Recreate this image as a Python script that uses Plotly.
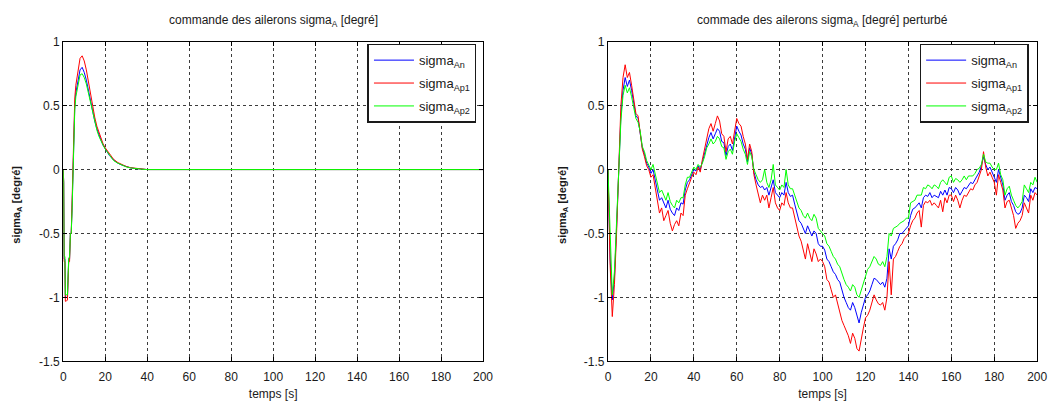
import plotly.graph_objects as go

# ---------------- data ----------------
# Left panel: nominal command (smooth response)
t_left = [0, 0.2, 0.4, 0.8, 1.0, 1.4, 2.0, 2.6, 3.0, 3.4, 3.8, 4.2, 4.6, 5.0, 5.5, 6.0, 7.0, 8.0, 9.0,
          10, 11, 12, 13, 14, 15, 16, 17, 18, 19, 20, 22, 24, 26, 28, 30, 32, 34, 36, 38, 40, 200]
left_An = [0, -0.1, -0.7, -0.7, -1.0, -1.0, -1.0, -0.7, -0.7, -0.5, -0.5, -0.3, 0.0, 0.3, 0.5, 0.6, 0.7,
           0.78, 0.80, 0.76, 0.70, 0.62, 0.53, 0.45, 0.38, 0.32, 0.27, 0.23, 0.19, 0.16, 0.11, 0.075,
           0.05, 0.035, 0.022, 0.014, 0.009, 0.006, 0.003, 0.0, 0.0]
left_Ap1 = [0, -0.1, -0.72, -0.72, -1.03, -1.03, -1.02, -0.72, -0.72, -0.5, -0.5, -0.28, 0.02, 0.34, 0.56,
            0.66, 0.78, 0.87, 0.89, 0.85, 0.78, 0.68, 0.58, 0.49, 0.41, 0.34, 0.29, 0.24, 0.20, 0.17, 0.12,
            0.08, 0.055, 0.037, 0.024, 0.015, 0.01, 0.006, 0.003, 0.0, 0.0]
left_Ap2 = [0, -0.1, -0.68, -0.68, -0.98, -0.98, -0.98, -0.69, -0.69, -0.5, -0.5, -0.32, -0.02, 0.28,
            0.47, 0.57, 0.67, 0.74, 0.75, 0.72, 0.67, 0.60, 0.51, 0.44, 0.37, 0.31, 0.26, 0.22, 0.19, 0.16,
            0.11, 0.07, 0.05, 0.034, 0.021, 0.013, 0.008, 0.005, 0.002, 0.0, 0.0]

# Right panel: perturbed command, sampled every second from 0 to 200 s
t_right = list(range(0, 201))
right_An = [0.0, -0.70, -1.02, -0.85, -0.45, 0.0, 0.42, 0.62, 0.72, 0.65, 0.70, 0.62, 0.52, 0.42, 0.40,
            0.30, 0.17, 0.12, 0.05, 0.02, -0.03, 0.0, -0.08, -0.17, -0.24, -0.22, -0.26, -0.30, -0.24,
            -0.31, -0.34, -0.36, -0.30, -0.32, -0.26, -0.27, -0.16, -0.10, -0.08, -0.04, 0.0, -0.01, 0.03,
            0.0, 0.06, 0.12, 0.20, 0.25, 0.29, 0.24, 0.28, 0.32, 0.30, 0.22, 0.21, 0.11, 0.18, 0.20, 0.15,
            0.26, 0.34, 0.30, 0.27, 0.20, 0.16, 0.06, 0.17, 0.12, -0.02, -0.08, -0.12, -0.14, -0.13,
            -0.16, -0.14, -0.20, -0.14, -0.08, -0.18, -0.20, -0.22, -0.18, -0.20, -0.10, -0.18, -0.21,
            -0.20, -0.27, -0.33, -0.40, -0.42, -0.46, -0.50, -0.44, -0.48, -0.52, -0.48, -0.50, -0.58,
            -0.60, -0.60, -0.63, -0.70, -0.72, -0.76, -0.80, -0.82, -0.86, -0.88, -0.95, -1.00, -1.04,
            -1.08, -1.10, -1.04, -1.08, -1.15, -1.20, -1.12, -1.05, -1.00, -0.98, -0.95, -0.90, -0.85,
            -0.86, -0.88, -0.90, -0.88, -0.92, -0.85, -0.62, -0.70, -0.60, -0.58, -0.55, -0.50, -0.50,
            -0.48, -0.46, -0.44, -0.36, -0.31, -0.30, -0.28, -0.26, -0.30, -0.22, -0.20, -0.21, -0.18,
            -0.22, -0.20, -0.21, -0.22, -0.17, -0.20, -0.16, -0.20, -0.14, -0.15, -0.18, -0.14, -0.16,
            -0.20, -0.17, -0.14, -0.15, -0.12, -0.10, -0.11, -0.08, -0.05, -0.02, 0.03, 0.10, 0.04, 0.00,
            0.02, -0.02, -0.05, -0.10, 0.0, -0.06, -0.12, -0.24, -0.20, -0.18, -0.25, -0.28, -0.33,
            -0.35, -0.34, -0.30, -0.20, -0.22, -0.25, -0.15, -0.18, -0.14, -0.15]
right_Ap1 = [0.0, -0.75, -1.15, -0.90, -0.50, 0.02, 0.50, 0.72, 0.82, 0.72, 0.76, 0.66, 0.55, 0.44, 0.42,
             0.30, 0.16, 0.10, 0.03, 0.0, -0.06, -0.04, -0.14, -0.24, -0.34, -0.30, -0.40, -0.36, -0.32,
             -0.42, -0.48, -0.43, -0.40, -0.44, -0.34, -0.36, -0.20, -0.15, -0.10, -0.06, -0.02, -0.04,
             0.02, -0.02, 0.08, 0.16, 0.26, 0.32, 0.36, 0.30, 0.36, 0.42, 0.38, 0.28, 0.26, 0.14, 0.24,
             0.26, 0.20, 0.32, 0.40, 0.36, 0.34, 0.26, 0.20, 0.08, 0.20, 0.14, -0.04, -0.12, -0.18,
             -0.26, -0.20, -0.24, -0.20, -0.30, -0.22, -0.14, -0.26, -0.30, -0.32, -0.26, -0.28, -0.18,
             -0.26, -0.30, -0.30, -0.38, -0.44, -0.52, -0.56, -0.62, -0.70, -0.58, -0.66, -0.72, -0.62,
             -0.66, -0.72, -0.70, -0.72, -0.76, -0.86, -0.88, -0.94, -1.00, -0.98, -1.05, -1.10, -1.18,
             -1.22, -1.26, -1.30, -1.36, -1.28, -1.32, -1.40, -1.42, -1.32, -1.24, -1.16, -1.14, -1.10,
             -1.04, -0.98, -1.02, -1.05, -1.06, -1.04, -1.10, -1.00, -0.72, -0.98, -0.70, -0.68, -0.64,
             -0.60, -0.58, -0.54, -0.52, -0.50, -0.44, -0.40, -0.38, -0.34, -0.32, -0.45, -0.28, -0.25,
             -0.26, -0.24, -0.28, -0.26, -0.28, -0.30, -0.24, -0.33, -0.22, -0.26, -0.20, -0.20, -0.25,
             -0.20, -0.24, -0.30, -0.24, -0.20, -0.21, -0.18, -0.15, -0.16, -0.12, -0.10, -0.05, 0.0,
             0.14, 0.02, -0.05, -0.02, -0.06, -0.10, -0.20, -0.04, -0.10, -0.16, -0.30, -0.25, -0.24,
             -0.30, -0.36, -0.46, -0.42, -0.40, -0.36, -0.26, -0.30, -0.34, -0.20, -0.24, -0.18, -0.20]
right_Ap2 = [0.0, -0.55, -0.98, -0.80, -0.40, 0.0, 0.38, 0.58, 0.66, 0.60, 0.64, 0.57, 0.48, 0.40, 0.37,
             0.30, 0.18, 0.14, 0.07, 0.04, 0.0, 0.04, -0.04, -0.12, -0.18, -0.16, -0.20, -0.24, -0.18,
             -0.25, -0.28, -0.30, -0.24, -0.26, -0.22, -0.22, -0.12, -0.06, -0.06, -0.02, 0.02, 0.0, 0.04,
             0.02, 0.05, 0.10, 0.17, 0.20, 0.24, 0.20, 0.22, 0.26, 0.24, 0.18, 0.17, 0.08, 0.14, 0.16,
             0.12, 0.22, 0.28, 0.25, 0.22, 0.16, 0.12, 0.04, 0.14, 0.10, 0.0, -0.04, -0.08, -0.10, -0.08,
             0.0, -0.10, -0.14, -0.08, 0.04, -0.12, -0.14, -0.16, -0.12, -0.14, 0.0, -0.12, -0.15, -0.15,
             -0.20, -0.25, -0.30, -0.32, -0.36, -0.38, -0.34, -0.38, -0.40, -0.35, -0.38, -0.46, -0.48,
             -0.50, -0.52, -0.58, -0.60, -0.64, -0.68, -0.70, -0.74, -0.76, -0.82, -0.86, -0.90, -0.92,
             -0.95, -0.90, -0.92, -0.98, -1.00, -0.94, -0.88, -0.82, -0.78, -0.76, -0.72, -0.68, -0.70,
             -0.74, -0.75, -0.72, -0.76, -0.68, -0.50, -0.52, -0.46, -0.45, -0.44, -0.42, -0.41, -0.40,
             -0.38, -0.38, -0.26, -0.25, -0.24, -0.20, -0.20, -0.20, -0.14, -0.15, -0.12, -0.13, -0.15,
             -0.12, -0.13, -0.15, -0.10, -0.08, -0.10, -0.12, -0.06, -0.05, -0.10, -0.07, -0.08, -0.10,
             -0.08, -0.05, -0.08, -0.05, -0.05, -0.05, -0.03, 0.0, 0.01, 0.04, 0.12, 0.06, 0.05, 0.05,
             0.02, 0.0, 0.0, 0.05, -0.04, -0.08, -0.20, -0.15, -0.13, -0.20, -0.24, -0.28, -0.30, -0.28,
             -0.25, -0.12, -0.15, -0.18, -0.10, -0.12, -0.06, -0.10]

series_names = ["sigma<sub>An</sub>", "sigma<sub>Ap1</sub>", "sigma<sub>Ap2</sub>"]
series_colors = ["#0000ff", "#ff0000", "#00ff00"]

x_ticks = [0, 20, 40, 60, 80, 100, 120, 140, 160, 180, 200]
y_ticks = [-1.5, -1, -0.5, 0, 0.5, 1]
y_ticktext = ["-1.5", "-1", "-0.5", "0", "0.5", "1"]

title_left = "commande des ailerons sigma<sub>A</sub> [degré]"
title_right = "commade des ailerons sigma<sub>A</sub> [degré] perturbé"
ylabel = "sigma<sub>A</sub> [degré]"
xlabel = "temps [s]"

# ---------------- figure ----------------
W, H = 1061, 405
FONT = "Liberation Sans, Arial, sans-serif"
TXT = "#1a1a1a"

fig = go.Figure()

left_sets = [left_An, left_Ap1, left_Ap2]
right_sets = [right_An, right_Ap1, right_Ap2]

for i in range(3):
    fig.add_trace(go.Scatter(x=t_left, y=left_sets[i], mode="lines", name=series_names[i],
                             line=dict(color=series_colors[i], width=1),
                             xaxis="x", yaxis="y", legend="legend", legendgroup="L%d" % i))
for i in range(3):
    fig.add_trace(go.Scatter(x=t_right, y=right_sets[i], mode="lines", name=series_names[i],
                             line=dict(color=series_colors[i], width=1),
                             xaxis="x2", yaxis="y2", legend="legend2", legendgroup="R%d" % i))

ytop, ybot = 36, 367
L_x0, L_x1 = 61, 486
R_x0, R_x1 = 612.5, 1047
ydom = [(H - ybot) / H, (H - ytop) / H]

axis_common = dict(
    showline=True, linecolor="black", linewidth=1.2, mirror="ticks",
    ticks="inside", ticklen=4, tickcolor="black", tickwidth=1,
    showgrid=True, gridcolor="#3c3c3c", griddash="dot", gridwidth=1,
    zeroline=False,
    tickfont=dict(family=FONT, size=12, color=TXT),
)

xaxis_common = dict(axis_common, range=[0, 200], tickvals=x_ticks, ticklabelstandoff=4,
                    title=dict(text=xlabel, font=dict(family=FONT, size=12, color=TXT), standoff=6))
yaxis_common = dict(axis_common, range=[-1.5, 1], tickvals=y_ticks, ticktext=y_ticktext)

legend_common = dict(
    bgcolor="white", bordercolor=TXT, borderwidth=1.5,
    font=dict(family=FONT, size=13, color=TXT),
    xanchor="left", yanchor="top", xref="paper", yref="paper",
    traceorder="grouped", tracegroupgap=3, itemwidth=40,
)

fig.update_layout(
    width=W, height=H, autosize=False,
    margin=dict(l=0, r=0, t=0, b=0),
    paper_bgcolor="white", plot_bgcolor="white",
    showlegend=True,
    xaxis=dict(xaxis_common, domain=[L_x0 / W, L_x1 / W], anchor="y"),
    yaxis=dict(yaxis_common, domain=ydom, anchor="x"),
    xaxis2=dict(xaxis_common, domain=[R_x0 / W, R_x1 / W], anchor="y2"),
    yaxis2=dict(yaxis_common, domain=ydom, anchor="x2"),
    legend=dict(legend_common, x=369 / W, y=1 - 38 / H),
    legend2=dict(legend_common, x=928 / W, y=1 - 38 / H),
)

ann_font = dict(family=FONT, size=12, color=TXT)
fig.add_annotation(text=title_left, x=(L_x0 + L_x1) / 2 / W, y=1 - 14 / H, xref="paper", yref="paper",
                   showarrow=False, font=ann_font, xanchor="center", yanchor="middle")
fig.add_annotation(text=title_right, x=(R_x0 + R_x1) / 2 / W, y=1 - 14 / H, xref="paper", yref="paper",
                   showarrow=False, font=ann_font, xanchor="center", yanchor="middle")
for xpix in (14, 567):
    fig.add_annotation(text="<b>" + ylabel + "</b>", x=xpix / W, y=1 - 205 / H, xref="paper", yref="paper",
                       showarrow=False, textangle=-90, font=dict(family=FONT, size=11, color=TXT),
                       xanchor="center", yanchor="middle")

fig.write_html("out.html")
